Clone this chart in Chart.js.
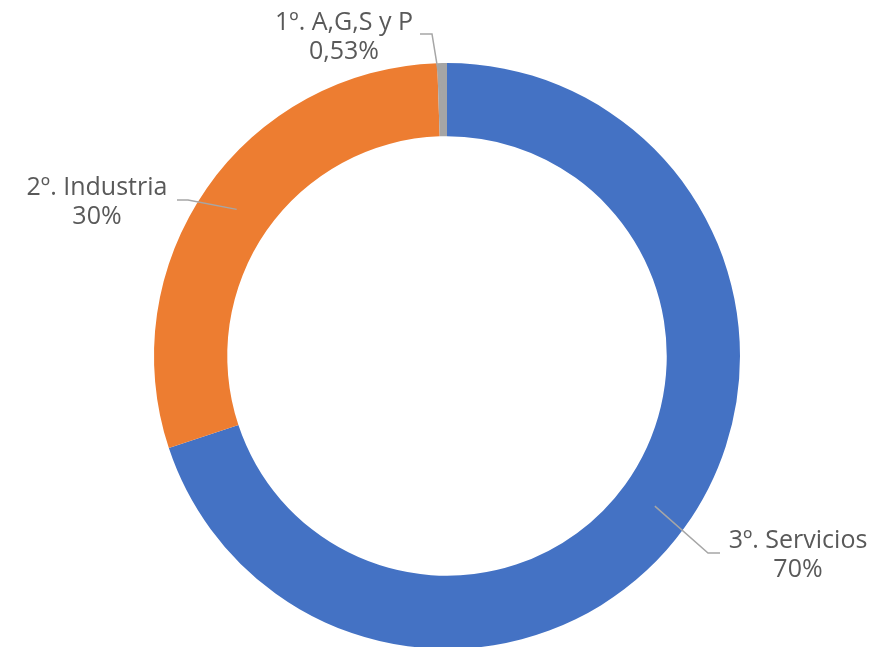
<!DOCTYPE html>
<html lang="es">
<head>
<meta charset="utf-8">
<title>Sectores económicos</title>
<script src="https://cdn.jsdelivr.net/npm/chart.js@4/dist/chart.umd.min.js"></script>
<style>
    html, body { margin: 0; padding: 0; background: #ffffff; overflow: hidden; }
    #grafico-sectores { display: block; }
</style>
</head>
<body>
<canvas id="grafico-sectores" width="881" height="649"></canvas>
<script>
// =====================================================
// DATOS
// =====================================================

const sectores = ['3º. Servicios', '2º. Industria', '1º. A,G,S y P'];
const porcentajes = [69.91, 29.56, 0.53];
const etiquetasPct = ['70%', '30%', '0,53%'];
const colores = ['#4472C4', '#ED7D31', '#A5A5A5'];

// =====================================================
// CONFIGURACIÓN DE ETIQUETAS (líneas guía)
// =====================================================

// codo y final de la línea guía, centro del texto y línea base de la 1ª fila
const guias = [
    { codo: [708, 553], fin: [720, 553], texto: [798, 548] },
    { codo: [188, 200], fin: [177, 200], texto: [97, 195] },
    { codo: [432, 34],  fin: [420, 34],  texto: [344, 30] }
];

const pluginEtiquetas = {
    id: 'etiquetasGuia',
    afterDatasetsDraw(chart) {
        const ctx = chart.ctx;
        const arcos = chart.getDatasetMeta(0).data;
        ctx.save();
        arcos.forEach((arco, i) => {
            const g = guias[i];
            const p = arco.tooltipPosition();
            // línea guía
            ctx.strokeStyle = '#A6A6A6';
            ctx.lineWidth = 1.5;
            ctx.beginPath();
            ctx.moveTo(p.x, p.y);
            ctx.lineTo(g.codo[0], g.codo[1]);
            ctx.lineTo(g.fin[0], g.fin[1]);
            ctx.stroke();
            // texto
            ctx.fillStyle = '#595959';
            ctx.font = '25px "Open Sans", sans-serif';
            ctx.textAlign = 'center';
            ctx.textBaseline = 'alphabetic';
            ctx.fillText(chart.data.labels[i], g.texto[0], g.texto[1]);
            ctx.fillText(etiquetasPct[i], g.texto[0], g.texto[1] + 29);
        });
        ctx.restore();
    }
};

// =====================================================
// CREACIÓN DEL GRÁFICO
// =====================================================

function crearGraficoSectores() {
    const ctx = document.getElementById('grafico-sectores');
    if (!ctx) return;

    new Chart(ctx, {
        type: 'doughnut',
        data: {
            labels: sectores,
            datasets: [{
                data: porcentajes,
                backgroundColor: colores,
                borderWidth: 0
            }]
        },
        options: {
            responsive: false,
            animation: false,
            cutout: '75%',
            layout: {
                padding: { left: 154, right: 141, top: 63, bottom: 0 }
            },
            plugins: {
                legend: { display: false },
                tooltip: { enabled: false }
            }
        },
        plugins: [pluginEtiquetas]
    });
}

crearGraficoSectores();
</script>
</body>
</html>
